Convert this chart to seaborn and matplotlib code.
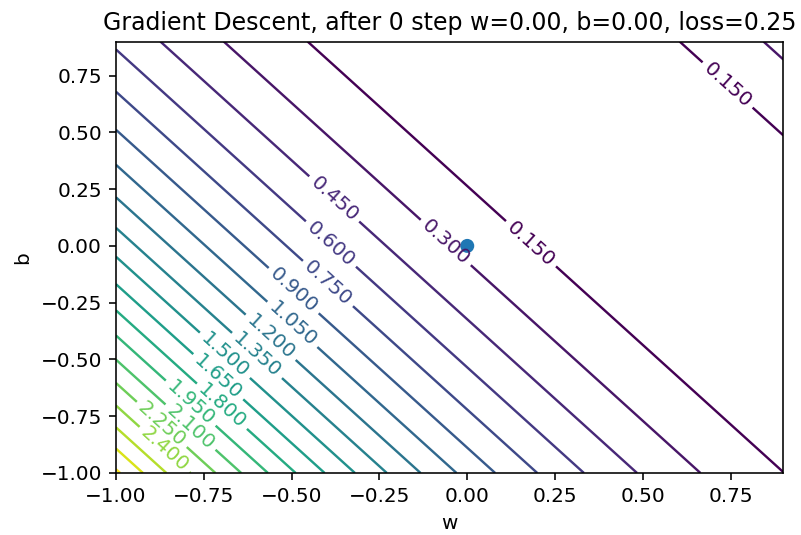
import numpy as np
import matplotlib
matplotlib.use("Agg")
import matplotlib.pyplot as plt
import seaborn as sns

# the two training points behind the loss surface
x_data = [1.4, 1.4]
y_data = [0.765, 1.245]

# current state of the descent
step = 0
w_now = [0.0]
b_now = [0.0]
loss_now = 0.25

# where the contour labels sit (w, b)
label_spots = [
    (0.742, 0.710), (0.166, -0.017), (-0.067, 0.005), (-0.385, 0.196),
    (-0.390, 0.005), (-0.395, -0.163), (-0.497, -0.202), (-0.494, -0.339),
    (-0.561, -0.405), (-0.597, -0.480), (-0.689, -0.480), (-0.717, -0.590),
    (-0.689, -0.690), (-0.780, -0.680), (-0.789, -0.800), (-0.860, -0.770),
    (-0.855, -0.885),
]

w_grid = np.linspace(-1, 0.9, 191)
b_grid = np.linspace(-1, 0.9, 191)
W, B = np.meshgrid(w_grid, b_grid)
Z = np.zeros_like(W)
for x, y in zip(x_data, y_data):
    Z += (W * x + B - y) ** 2
Z = 0.247 * Z / len(x_data)

levels = np.arange(0.15, 2.86, 0.15)

fig = plt.figure(figsize=(801 / 144, 535 / 144), dpi=144)
ax = fig.add_axes([0.1448, 0.1159, 0.978 - 0.1448, 0.9224 - 0.1159])

cs = ax.contour(W, B, Z, levels=levels, cmap="viridis", linewidths=1.2)
ax.clabel(cs, fmt="%1.3f", manual=label_spots, fontsize=10)

sns.scatterplot(x=w_now, y=b_now, ax=ax, s=49, color="#1f77b4",
                edgecolor="none", zorder=3)

ax.set_xlim(-1, 0.9)
ax.set_ylim(-1, 0.9)
ax.set_xlabel("w")
ax.set_ylabel("b")
ax.set_title(
    "Gradient Descent, after %d step w=%.2f, b=%.2f, loss=%.2f"
    % (step, w_now[0], b_now[0], loss_now),
    fontsize=11.8,
)

fig.savefig("out.png", dpi=144)
plt.close()
